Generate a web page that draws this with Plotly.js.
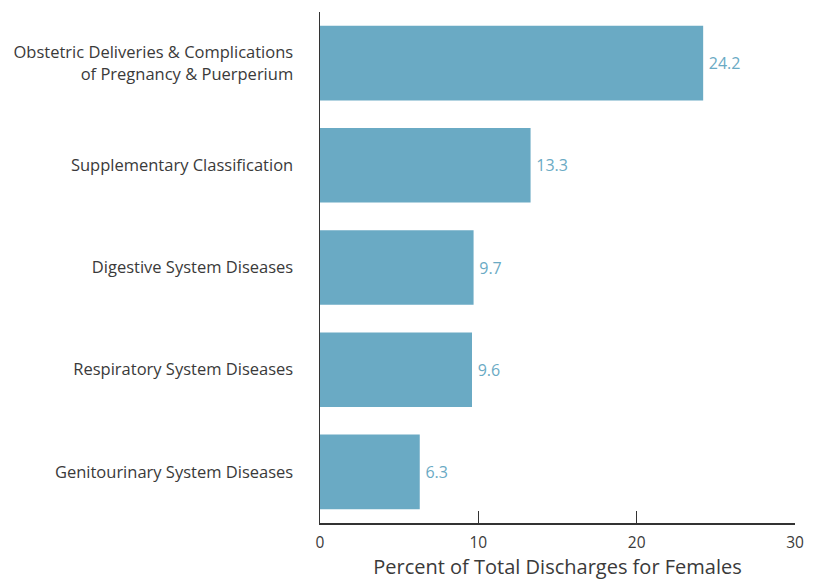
<!DOCTYPE html>
<html><head><meta charset="utf-8">
<script src="https://cdn.plot.ly/plotly-3.0.1.min.js"></script>
<style>html,body{margin:0;padding:0;background:#fff}</style>
</head><body><div id="chart" style="width:814px;height:580px"></div>
<script>
const categories = [
  "Obstetric Deliveries & Complications<br>of Pregnancy & Puerperium",
  "Supplementary Classification",
  "Digestive System Diseases",
  "Respiratory System Diseases",
  "Genitourinary System Diseases"
];
const values = [24.2, 13.3, 9.7, 9.6, 6.3];
const xTicks = [0, 10, 20, 30];
const xTitle = "Percent of Total Discharges for Females";

const barColor = "#6aaac4";
const fontFam = "'Open Sans', sans-serif";

Plotly.newPlot("chart", [{
  type: "bar", orientation: "h",
  y: categories, x: values,
  marker: {color: barColor},
  text: values.map(v => "\u2009" + v.toFixed(1)),
  textposition: "outside",
  textfont: {color: barColor, size: 16, family: fontFam},
  cliponaxis: false,
  hoverinfo: "none"
}], {
  width: 814, height: 580,
  margin: {l: 320, r: 19, t: 12, b: 57},
  paper_bgcolor: "#fff", plot_bgcolor: "#fff",
  bargap: 0.27,
  showlegend: false,
  font: {family: fontFam, color: "#3a3a3a"},
  xaxis: {
    range: [0, 30], tickvals: xTicks, ticktext: xTicks.map(String),
    showgrid: false, zeroline: false,
    showline: true, linecolor: "#333", linewidth: 1.5,
    ticks: "inside", ticklen: 12, tickcolor: "#333", tickwidth: 1.5,
    ticklabelstandoff: 5,
    tickfont: {size: 15.5, color: "#3a3a3a"},
    title: {text: xTitle, font: {size: 20, color: "#3a3a3a"}, standoff: 10}
  },
  yaxis: {
    autorange: false, range: [4.5, -0.5],
    showgrid: false, zeroline: false,
    showline: true, linecolor: "#333", linewidth: 1.5,
    ticks: "", ticklabelstandoff: 22,
    tickfont: {size: 16.5, color: "#3a3a3a"}
  }
}, {displayModeBar: false, staticPlot: true});
</script></body></html>
